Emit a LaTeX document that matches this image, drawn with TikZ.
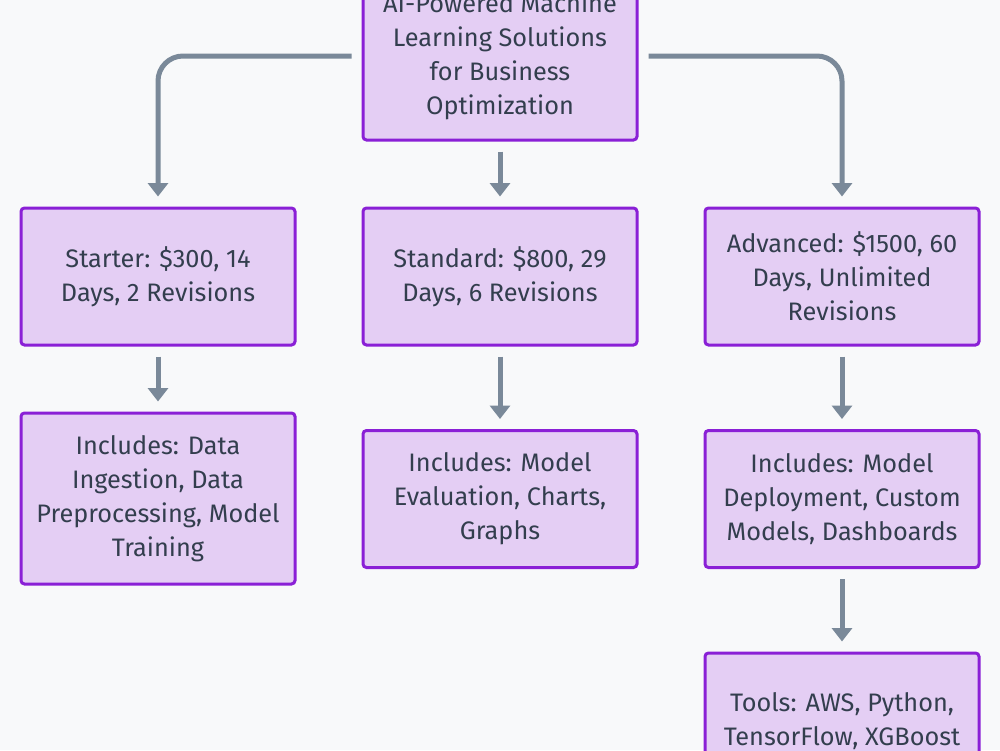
\documentclass[tikz,border=0pt]{standalone}
\usepackage{fontspec}
\setmainfont{Fira Sans}
\usepackage{tikz}
\usetikzlibrary{arrows.meta, positioning, calc}
\definecolor{bgpaper}{RGB}{248,249,250}
\definecolor{boxfill}{RGB}{228,206,244}
\definecolor{boxline}{RGB}{138,32,214}
\definecolor{linkgray}{RGB}{122,137,153}
\definecolor{textslate}{RGB}{51,62,78}

\begin{document}
\begin{tikzpicture}[
    tierbox/.style={draw=boxline, fill=boxfill, line width=0.06cm, rounded corners=0.07cm,
        minimum width=5.48cm, minimum height=2.74cm, align=center, text=textslate,
        font=\fontsize{14.4}{19.4}\selectfont},
    link/.style={draw=linkgray, line width=0.1cm, rounded corners=0.5cm,
        -{Triangle[width=0.4cm,length=0.27cm]}, shorten >=0.2cm, shorten <=0.2cm}
]
% Canvas
\clip (0,0) rectangle (20,-15);
\fill[bgpaper] (0,0) rectangle (20,-15);

% Main offer
\node[tierbox, minimum height=3.36cm] (offer) at (10,-1.12) {AI-Powered Machine\\Learning Solutions\\for Business\\Optimization};

% Packages
\node[tierbox] (starter) at (3.16,-5.53) {Starter: \$300, 14\\Days, 2 Revisions};
\node[tierbox] (standard) at (10,-5.53) {Standard: \$800, 29\\Days, 6 Revisions};
\node[tierbox] (advanced) at (16.84,-5.53) {Advanced: \$1500, 60\\Days, Unlimited\\Revisions};

% What each package includes
\node[tierbox, minimum height=3.42cm] (startinc) at (3.16,-9.97) {Includes: Data\\Ingestion, Data\\Preprocessing, Model\\Training};
\node[tierbox] (standinc) at (10,-9.98) {Includes: Model\\Evaluation, Charts,\\Graphs};
\node[tierbox] (advinc) at (16.84,-9.98) {Includes: Model\\Deployment, Custom\\Models, Dashboards};

% Tools
\node[tierbox] (tools) at (16.84,-14.43) {Tools: AWS, Python,\\TensorFlow, XGBoost};

% Links
\draw[link] (offer.west) -| (starter.north);
\draw[link] (offer.south) -- (standard.north);
\draw[link] (offer.east) -| (advanced.north);
\draw[link] (starter.south) -- (startinc.north);
\draw[link] (standard.south) -- (standinc.north);
\draw[link] (advanced.south) -- (advinc.north);
\draw[link] (advinc.south) -- (tools.north);
\end{tikzpicture}
\end{document}
